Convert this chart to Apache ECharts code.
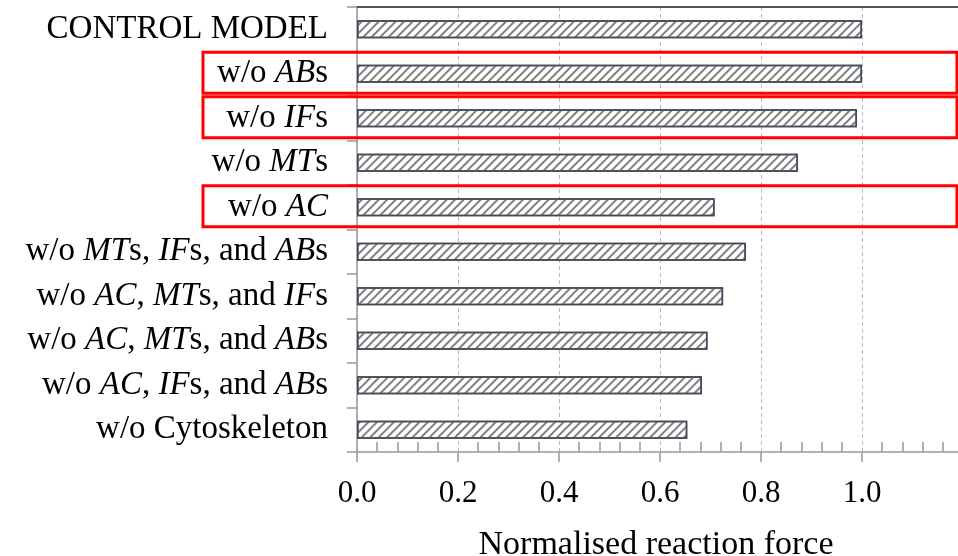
<!DOCTYPE html>
<html><head><meta charset="utf-8">
<script src="https://cdn.jsdelivr.net/npm/echarts@6/dist/echarts.min.js"></script>
<style>html,body{margin:0;padding:0;background:#fff}#c{width:958px;height:556px}</style>
</head><body><div id="c"></div>
<script>
const categories = ['CONTROL MODEL','w/o {i|AB}s','w/o {i|IF}s','w/o {i|MT}s','w/o {i|AC}','w/o {i|MT}s, {i|IF}s, and {i|AB}s','w/o {i|AC}, {i|MT}s, and {i|IF}s','w/o {i|AC}, {i|MT}s, and {i|AB}s','w/o {i|AC}, {i|IF}s, and {i|AB}s','w/o Cytoskeleton'];
const values = [1.0, 1.0, 0.99, 0.873, 0.708, 0.77, 0.725, 0.694, 0.683, 0.654];
const highlighted = [1, 2, 4];
const axisTitle = 'Normalised reaction force';

const FONT = '"Liberation Serif", "Times New Roman", serif';
const chart = echarts.init(document.getElementById('c'), null, {renderer: 'canvas'});
const xBase = {type: 'value', min: 0, max: 1.2, interval: 0.2, gridIndex: 0};
chart.setOption({
  animation: false,
  backgroundColor: '#fff',
  grid: {left: 357, top: 7, right: -5, bottom: 104, containLabel: false, outerBoundsMode: 'none'},
  xAxis: [
    Object.assign({}, xBase, {
      position: 'bottom',
      axisLine: {show: true, lineStyle: {color: '#999', width: 1.5}},
      axisTick: {show: true, inside: false, length: 10, lineStyle: {color: '#999', width: 1.5}},
      axisLabel: {show: true, margin: 26, fontFamily: FONT, fontSize: 31, color: '#000',
        showMaxLabel: false, formatter: v => v.toFixed(1)},
      splitLine: {show: true, lineStyle: {color: '#bbb', type: [4, 3], width: 1}},
      name: axisTitle, nameLocation: 'middle', nameGap: 76,
      nameTextStyle: {fontFamily: FONT, fontSize: 34, color: '#000', padding: [0, 8, 0, 0]}
    }),
    Object.assign({}, xBase, {
      position: 'top',
      axisLine: {show: true, onZero: false, lineStyle: {color: '#555', width: 2}},
      axisTick: {show: false}, axisLabel: {show: false}, splitLine: {show: false}
    }),
    Object.assign({}, xBase, {
      position: 'bottom',
      axisLine: {show: false, onZero: false},
      axisTick: {show: false, inside: true},
      minorTick: {show: true, splitNumber: 5, length: 10, lineStyle: {color: '#999', width: 1.5}},
      axisLabel: {show: false}, splitLine: {show: false}
    })
  ],
  yAxis: {
    type: 'category', data: categories, inverse: true,
    axisLine: {show: true, onZero: false, lineStyle: {color: '#999', width: 1.5}},
    axisTick: {show: true, length: 10, lineStyle: {color: '#999', width: 1.5}},
    axisLabel: {margin: 29, fontFamily: FONT, fontSize: 33, color: '#000',
      rich: {i: {fontFamily: FONT, fontSize: 33, fontStyle: 'italic', color: '#000'}}},
    splitLine: {show: false}
  },
  series: [{
    type: 'bar', data: values, barWidth: 18, xAxisIndex: 0,
    itemStyle: {
      color: '#fff', borderColor: '#3f4a5a', borderWidth: 1.5,
      decal: {symbol: 'rect', symbolSize: 1, dashArrayX: [1, 0], dashArrayY: [2, 3.2],
        rotation: -Math.PI / 4, color: '#808080'}
    }
  }]
});

const rects = highlighted.map(i => {
  const cy = chart.convertToPixel({yAxisIndex: 0}, i);
  return {type: 'rect', z: 100, silent: true,
    shape: {x: 203, y: cy - 21.5, width: 754, height: 41},
    style: {fill: 'none', stroke: '#ff0000', lineWidth: 3}};
});
chart.setOption({graphic: rects});
</script>
</body></html>
